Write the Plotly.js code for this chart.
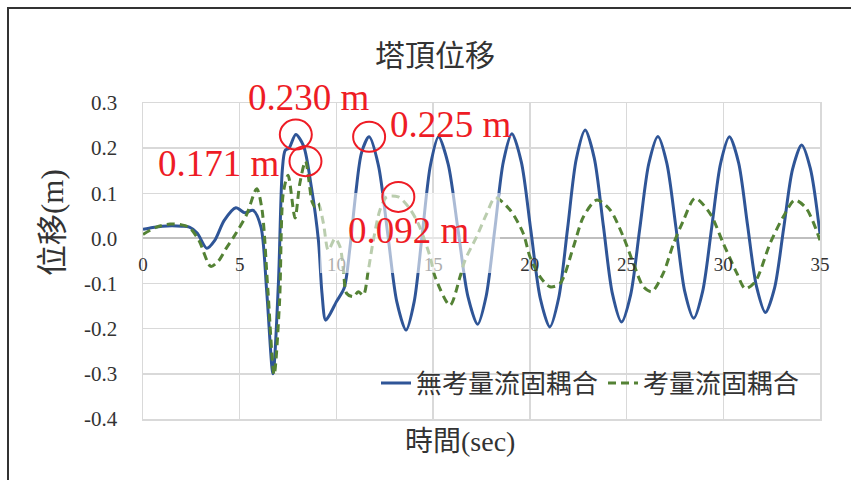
<!DOCTYPE html>
<html>
<head>
<meta charset="utf-8">
<script src="https://cdn.plot.ly/plotly-3.0.1.min.js"></script>
<style>
  html, body { margin: 0; padding: 0; background: #ffffff; }
  #wrap { position: relative; width: 851px; height: 480px; overflow: hidden; }
  #chart { position: absolute; left: 0; top: 0; width: 851px; height: 480px; }
  #frame { position: absolute; left: 7px; top: 7px; width: 860px; height: 480px;
           border-left: 2px solid #333; border-top: 2px solid #333; pointer-events: none; }
</style>
</head>
<body>
<div id="wrap">
  <div id="chart"></div>
  <div id="frame"></div>
</div>
<script>
// ---- chart text ----
const chartTitle = '塔頂位移';
const xTitle = '時間(sec)';
const yTitle = '位移(m)';
const seriesNames = ['無考量流固耦合', '考量流固耦合'];

// ---- tick labels ----
const xTickVals = [0, 5, 10, 15, 20, 25, 30, 35];
const xTickText = ['0', '5', '10', '15', '20', '25', '30', '35'];
const yTickVals = [0.3, 0.2, 0.1, 0.0, -0.1, -0.2, -0.3, -0.4];
const yTickText = ['0.3', '0.2', '0.1', '0.0', '-0.1', '-0.2', '-0.3', '-0.4'];

// ---- series: 無考量流固耦合 (time in sec, displacement in m) ----
const blueT = [0, 0.5, 1.0, 1.5, 2.0, 2.4, 2.8, 3.3, 3.7, 4.2, 4.8, 5.25, 5.7, 6.1, 6.4, 6.72, 7.0, 7.2, 7.35, 7.55,
  7.9, 8.3, 8.7, 9.07, 9.25, 9.44, 9.7, 10.0, 10.4, 10.7, 11.0, 11.3, 11.69,
  12.17, 12.65, 13.12, 13.6, 14.02, 14.44, 14.86, 15.28, 15.78, 16.29, 16.8, 17.3,
  17.74, 18.19, 18.63, 19.07, 19.56, 20.05, 20.54, 21.03, 21.49, 21.95, 22.4, 22.86,
  23.33, 23.8, 24.27, 24.74, 25.21, 25.68, 26.15, 26.62, 27.08, 27.55, 28.01, 28.47,
  28.93, 29.4, 29.86, 30.32, 30.79, 31.25, 31.72, 32.18, 32.65, 33.12, 33.58, 34.05, 34.5, 35.0];
const blueV = [0.020, 0.024, 0.027, 0.028, 0.027, 0.025, 0.012, -0.022, -0.005, 0.040, 0.068, 0.057, 0.062, 0.025, -0.120, -0.300, -0.100, 0.150, 0.195, 0.200,
  0.230, 0.205, 0.115, -0.005, -0.120, -0.181, -0.165, -0.140, -0.110, -0.020, 0.100, 0.190, 0.225,
  0.162, 0.011, -0.140, -0.203, -0.140, 0.011, 0.162, 0.225, 0.164, 0.018, -0.129, -0.190,
  -0.128, 0.021, 0.170, 0.232, 0.169, 0.018, -0.133, -0.196, -0.132, 0.022, 0.176, 0.240,
  0.178, 0.028, -0.123, -0.185, -0.125, 0.021, 0.166, 0.226, 0.167, 0.025, -0.118, -0.177,
  -0.118, 0.024, 0.166, 0.225, 0.168, 0.031, -0.107, -0.164, -0.110, 0.022, 0.153, 0.207, 0.155, 0.010];

// ---- series: 考量流固耦合 ----
const greenT = [0, 0.7, 1.4, 2.0, 2.4, 2.9, 3.5, 3.9, 4.3, 4.7, 5.35, 5.88, 6.15, 6.45, 6.78, 7.06, 7.25, 7.5, 7.86, 8.1,
  8.4, 8.75, 8.9, 9.06, 9.33, 9.58, 9.93, 10.19, 10.36, 10.53, 10.88, 11.13, 11.39, 11.65, 11.91, 12.25, 12.6, 13.2,
  13.72, 14.23, 14.84, 15.1, 15.87, 16.39, 16.65, 17.25, 17.77, 18.2, 18.98, 19.66, 20.0, 20.53, 21.04, 21.56,
  22.25, 22.77, 23.46, 24.15, 24.83, 25.35, 25.87, 26.3, 26.9, 27.4, 27.94, 28.54, 29.32, 30.0, 30.7, 31.13,
  31.65, 32.42, 33.1, 33.7, 34.3, 35.0];
const greenV = [0.009, 0.025, 0.032, 0.030, 0.024, -0.005, -0.062, -0.050, -0.022, 0.004, 0.052, 0.110, 0.065, -0.110, -0.302, -0.140, 0.100, 0.140, 0.045, 0.120,
  0.171, 0.080, 0.070, 0.078, 0.033, -0.026, 0.000, -0.019, -0.070, -0.122, -0.129, -0.118, -0.126, -0.070, -0.004, 0.063, 0.092, 0.092,
  0.070, 0.033, -0.040, -0.085, -0.148, -0.085, -0.048, 0.004, 0.055, 0.090, 0.063, 0.011, -0.040, -0.085, -0.107, -0.100,
  -0.019, 0.048, 0.085, 0.063, 0.004, -0.055, -0.107, -0.118, -0.077, -0.015, 0.040, 0.089, 0.055, -0.011, -0.077, -0.111,
  -0.096, -0.011, 0.048, 0.085, 0.066, -0.004];

// ---- highlighted peaks (circled, labelled) ----
const peakT = [7.9, 8.4, 11.69, 13.2];
const peakV = [0.230, 0.171, 0.225, 0.092];
const peakLabelShiftX = [13, -86, 82, 11];
const peakLabelShiftY = [37, -2, 12, -34];

const blueColor = '#2f5597';
const greenColor = '#548235';
const red = '#ee1c25';
const serif = 'Liberation Serif, Times New Roman, serif';
const cjk = 'Noto Sans CJK TC, Noto Sans CJK JP, sans-serif';
const mixed = 'Liberation Serif, Noto Sans CJK TC, serif';

const traces = [
  { x: blueT, y: blueV, type: 'scatter', mode: 'lines', name: seriesNames[0], xaxis: 'x', yaxis: 'y',
    line: { color: blueColor, width: 3, shape: 'spline', smoothing: 0.8 } },
  { x: greenT, y: greenV, type: 'scatter', mode: 'lines', name: seriesNames[1], xaxis: 'x2', yaxis: 'y',
    line: { color: greenColor, width: 3, dash: '8px,5px', shape: 'spline', smoothing: 0.8 } }
];

const M = { l: 143, r: 31, t: 103, b: 61 };
const W = 851, H = 480;
const pw = W - M.l - M.r, ph = H - M.t - M.b;
const px = v => (v - M.l) / pw;        // pixel -> paper x
const py = v => (H - M.b - v) / ph;    // pixel -> paper y

const shapes = [
  // whitish translucent text-box region that fades the lines behind it
  { type: 'rect', xref: 'paper', yref: 'paper', x0: px(320), x1: px(500), y0: py(273), y1: py(193),
    fillcolor: 'rgba(255,255,255,0.6)', line: { width: 0 }, layer: 'above' }
];
const annotations = [];
peakT.forEach((t, i) => {
  shapes.push({ type: 'circle', xref: 'x', yref: 'y', xsizemode: 'pixel', ysizemode: 'pixel',
    xanchor: t, yanchor: peakV[i], x0: -16, x1: 16, y0: -15, y1: 15,
    line: { color: red, width: 2 }, fillcolor: 'rgba(0,0,0,0)', layer: 'above' });
  annotations.push({ x: t, y: peakV[i], xref: 'x', yref: 'y', showarrow: false,
    xanchor: 'center', yanchor: 'middle',
    text: peakV[i].toFixed(3) + ' m', xshift: peakLabelShiftX[i], yshift: peakLabelShiftY[i],
    font: { family: serif, size: 37, color: red } });
});
annotations.push({ xref: 'paper', yref: 'paper', x: px(460), y: py(441), xanchor: 'center', yanchor: 'middle',
  showarrow: false, text: xTitle, font: { family: mixed, size: 28, color: '#333' } });
annotations.push({ xref: 'paper', yref: 'paper', x: px(52), y: py(223), xanchor: 'center', yanchor: 'middle',
  showarrow: false, text: yTitle, textangle: -90, font: { family: mixed, size: 31, color: '#333' } });

const layout = {
  width: W, height: H,
  margin: M,
  paper_bgcolor: 'rgba(0,0,0,0)',
  plot_bgcolor: '#ffffff',
  title: { text: chartTitle, x: 435 / W, xref: 'container', xanchor: 'center',
           y: 1 - 55 / H, yref: 'container', yanchor: 'middle',
           font: { family: cjk, size: 30, color: '#333' } },
  showlegend: true,
  legend: { orientation: 'h', x: px(805), xanchor: 'right', y: py(383), yanchor: 'middle',
            bgcolor: 'rgba(0,0,0,0)', font: { family: cjk, size: 26, color: '#333' },
            itemwidth: 30, tracegroupgap: 0 },
  xaxis: { range: [0, 35], tickvals: xTickVals, showticklabels: false, showgrid: true,
           gridcolor: '#d9d9d9', gridwidth: 1.5, zeroline: false, showline: true, mirror: true,
           linecolor: '#d9d9d9', linewidth: 1.5, ticks: '', fixedrange: true },
  xaxis2: { range: [0, 35], overlaying: 'x', anchor: 'free', position: 0.4 / 0.7, side: 'bottom',
            tickvals: xTickVals, ticktext: xTickText, showgrid: false, zeroline: false, showline: false,
            showticklabels: true, ticks: '', ticklabelstandoff: 13,
            tickfont: { family: serif, size: 19, color: '#333' }, fixedrange: true },
  yaxis: { range: [-0.4, 0.3], tickvals: yTickVals, ticktext: yTickText, showgrid: true,
           gridcolor: '#d9d9d9', gridwidth: 1.5, zeroline: true, zerolinecolor: '#bfbfbf', zerolinewidth: 2,
           showline: true, mirror: true, linecolor: '#d9d9d9', linewidth: 1.5, ticks: '',
           ticklabelstandoff: 20, tickfont: { family: serif, size: 21, color: '#333' }, fixedrange: true },
  shapes: shapes,
  annotations: annotations
};

Plotly.newPlot('chart', traces, layout, { staticPlot: true, displayModeBar: false });
</script>
</body>
</html>
